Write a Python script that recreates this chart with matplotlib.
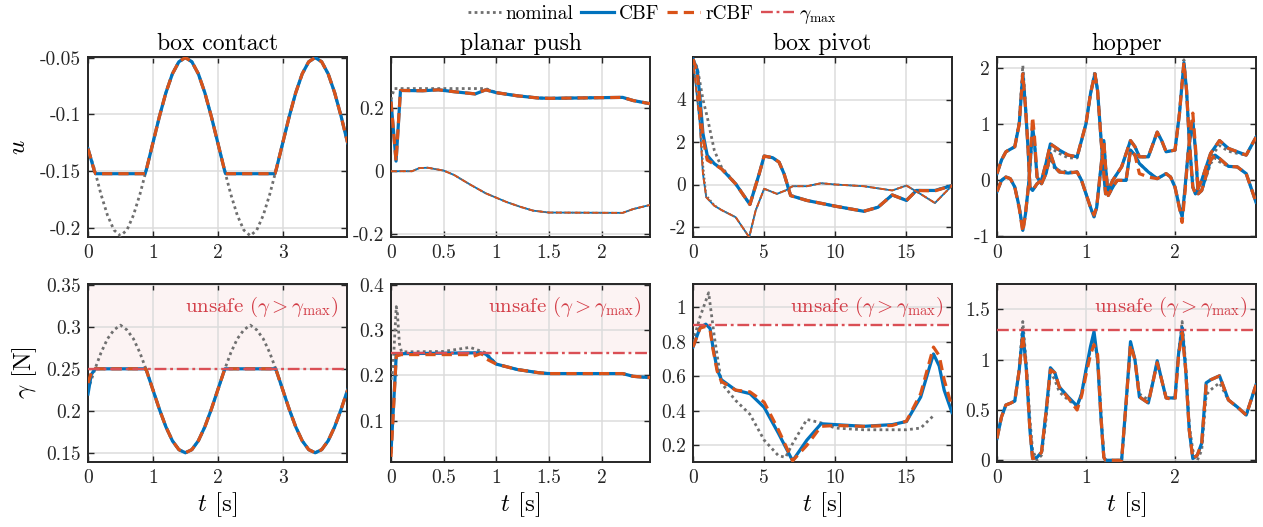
import matplotlib
matplotlib.use("Agg")
import matplotlib.pyplot as plt

plt.rcParams['font.family'] = 'serif'
plt.rcParams['font.serif'] = ['cmr10']
plt.rcParams['mathtext.fontset'] = 'cm'
plt.rcParams['axes.unicode_minus'] = False
plt.rcParams['axes.formatter.use_mathtext'] = True

# ---------------- data ----------------
titles = ["box contact", "planar push", "box pivot", "hopper"]
gamma_max = [0.25, 0.25, 0.9, 1.3]

# box contact
bc_t_nom = [0.0, 0.1, 0.2, 0.3, 0.4, 0.5, 0.6, 0.7, 0.8, 0.9, 1.0, 1.1, 1.2, 1.3, 1.4, 1.5, 1.6, 1.7, 1.8, 1.9, 2.0,
            2.1, 2.2, 2.3, 2.4, 2.5, 2.6, 2.7, 2.8, 2.9, 3.0, 3.1, 3.2, 3.3, 3.4, 3.5, 3.6, 3.7, 3.8, 3.9, 4.0]
bc_u_nom = [-0.13, -0.1482, -0.1701, -0.1885, -0.2015, -0.2065, -0.2015, -0.1885, -0.1701, -0.1482, -0.125,
            -0.1018, -0.0809, -0.0643, -0.0537, -0.05, -0.0537, -0.0643, -0.0809, -0.1018, -0.125,
            -0.1482, -0.1701, -0.1885, -0.2015, -0.2065, -0.2015, -0.1885, -0.1701, -0.1482, -0.125,
            -0.1018, -0.0809, -0.0643, -0.0537, -0.05, -0.0537, -0.0643, -0.0809, -0.1018, -0.125]
bc_t_cbf = [0.0, 0.1, 0.12, 0.88, 0.9, 1.0, 1.1, 1.2, 1.3, 1.4, 1.5, 1.6, 1.7, 1.8, 1.9, 2.0, 2.1, 2.12, 2.88,
            2.9, 3.0, 3.1, 3.2, 3.3, 3.4, 3.5, 3.6, 3.7, 3.8, 3.9, 4.0]
bc_u_cbf = [-0.13, -0.15, -0.152, -0.152, -0.1482, -0.125, -0.1018, -0.0809, -0.0643, -0.0537, -0.05, -0.0537,
            -0.0643, -0.0809, -0.1018, -0.125, -0.1482, -0.152, -0.152, -0.1482, -0.125, -0.1018, -0.0809,
            -0.0643, -0.0537, -0.05, -0.0537, -0.0643, -0.0809, -0.1018, -0.125]
bc_u_rcbf = [-0.13, -0.15, -0.152, -0.152, -0.1482, -0.125, -0.1018, -0.0809, -0.0643, -0.0537, -0.05, -0.0537,
             -0.0643, -0.0809, -0.1018, -0.125, -0.1482, -0.152, -0.152, -0.1482, -0.125, -0.1018, -0.0809,
             -0.0643, -0.0537, -0.05, -0.0537, -0.0643, -0.0809, -0.1018, -0.125]
bc_g_nom = [0.225, 0.2482, 0.2691, 0.2857, 0.2963, 0.302, 0.2963, 0.2857, 0.2691, 0.2482, 0.225,
            0.2018, 0.1809, 0.1643, 0.1537, 0.15, 0.1537, 0.1643, 0.1809, 0.2018, 0.225,
            0.2482, 0.2691, 0.2857, 0.2963, 0.302, 0.2963, 0.2857, 0.2691, 0.2482, 0.225,
            0.2018, 0.1809, 0.1643, 0.1537, 0.15, 0.1537, 0.1643, 0.1809, 0.2018, 0.225]
bc_tg_cbf = [0.0, 0.05, 0.11, 0.89, 0.9, 1.0, 1.1, 1.2, 1.3, 1.4, 1.5, 1.6, 1.7, 1.8, 1.9, 2.0, 2.1, 2.11, 2.89,
             2.9, 3.0, 3.1, 3.2, 3.3, 3.4, 3.5, 3.6, 3.7, 3.8, 3.9, 4.0]
bc_g_cbf = [0.22, 0.243, 0.25, 0.25, 0.2482, 0.225, 0.2018, 0.1809, 0.1643, 0.1537, 0.15, 0.1537, 0.1643,
            0.1809, 0.2018, 0.225, 0.2482, 0.25, 0.25, 0.2482, 0.225, 0.2018, 0.1809, 0.1643, 0.1537, 0.15,
            0.1537, 0.1643, 0.1809, 0.2018, 0.225]
bc_g_rcbf = [0.233, 0.245, 0.25, 0.25, 0.2482, 0.225, 0.2018, 0.1809, 0.1643, 0.1537, 0.15, 0.1537, 0.1643,
             0.1809, 0.2018, 0.225, 0.2482, 0.25, 0.25, 0.2482, 0.225, 0.2018, 0.1809, 0.1643, 0.1537, 0.15,
             0.1537, 0.1643, 0.1809, 0.2018, 0.225]

# planar push
pp_t1 = [0.0, 0.048, 0.09, 0.3, 0.45, 0.6, 0.8, 0.9, 1.0, 1.2, 1.4, 1.5, 2.2, 2.3, 2.46]
pp_u1_cbf = [0.221, 0.032, 0.256, 0.255, 0.258, 0.252, 0.245, 0.258, 0.249, 0.239, 0.232, 0.231, 0.234, 0.224, 0.214]
pp_u1_rcbf = [0.221, 0.032, 0.256, 0.255, 0.258, 0.252, 0.245, 0.258, 0.249, 0.239, 0.232, 0.231, 0.234, 0.224, 0.214]
pp_t1_nom = [0.0, 0.03, 0.9, 1.0, 1.2, 1.4, 1.5, 2.2, 2.3, 2.46]
pp_u1_nom = [0.226, 0.262, 0.262, 0.249, 0.239, 0.232, 0.231, 0.234, 0.224, 0.214]
pp_t2 = [0.0, 0.2, 0.27, 0.35, 0.5, 0.6, 0.75, 0.9, 1.0, 1.1, 1.23, 1.35, 1.5, 2.2, 2.3, 2.46]
pp_u2 = [0.0, 0.0, 0.01, 0.011, 0.002, -0.012, -0.042, -0.07, -0.084, -0.098, -0.113, -0.125, -0.131, -0.132,
         -0.12, -0.107]
pp_tg_cbf = [0.0, 0.05, 0.1, 0.85, 0.9, 1.0, 1.2, 1.4, 1.5, 2.2, 2.3, 2.46]
pp_g_cbf = [0.031, 0.245, 0.248, 0.25, 0.247, 0.225, 0.213, 0.206, 0.204, 0.204, 0.198, 0.195]
pp_tg_rcbf = [0.0, 0.05, 0.1, 0.75, 0.78, 0.85, 0.88, 0.9, 1.0, 1.2, 1.4, 1.5, 2.2, 2.3, 2.46]
pp_g_rcbf = [0.02, 0.243, 0.246, 0.246, 0.242, 0.248, 0.245, 0.237, 0.225, 0.213, 0.206, 0.204, 0.204, 0.198, 0.195]
pp_tg_nom = [0.0, 0.02, 0.05, 0.06, 0.08, 0.1, 0.5, 0.75, 0.9, 1.0, 1.2, 1.4, 1.5, 2.2, 2.3, 2.46]
pp_g_nom = [0.19, 0.22, 0.352, 0.34, 0.27, 0.252, 0.253, 0.262, 0.25, 0.225, 0.213, 0.206, 0.204, 0.204, 0.198, 0.195]

# box pivot
bp_tA = [0.0, 0.3, 0.5, 0.7, 1.0, 1.5, 2.0, 3.0, 4.0, 4.65, 5.0, 5.6, 6.05, 6.4, 6.86, 8.0, 10.0, 12.0, 13.0, 14.0,
         15.0, 15.7, 17.0, 18.2]
bp_uA_cbf = [5.9, 5.4, 4.0, 2.4, 1.37, 0.98, 0.74, 0.03, -0.94, 0.5, 1.34, 1.26, 1.05, 0.5, -0.52, -0.75, -1.02,
             -1.26, -1.07, -0.49, -0.75, -0.28, -0.28, -0.05]
bp_uA_rcbf = [5.9, 5.3, 3.7, 2.2, 1.15, 0.95, 0.74, 0.03, -0.94, 0.5, 1.34, 1.26, 1.05, 0.5, -0.52, -0.75, -1.02,
              -1.26, -1.07, -0.49, -0.75, -0.28, -0.3, -0.05]
bp_uA_nom = [5.9, 5.5, 4.76, 4.0, 3.18, 1.6, 0.82, 0.03, -0.94, 0.5, 1.34, 1.26, 1.05, 0.5, -0.52, -0.75, -1.02,
             -1.26, -1.07, -0.49, -0.75, -0.28, -0.28, -0.05]
bp_tB = [0.0, 0.47, 0.7, 0.93, 1.5, 2.0, 3.0, 3.95, 4.4, 5.0, 5.9, 6.5, 7.0, 8.0, 9.0, 10.0, 12.0, 14.0, 15.0, 16.0,
         17.0, 18.2]
bp_uB = [5.9, 2.9, 0.5, -0.6, -1.0, -1.2, -1.54, -2.48, -1.23, -0.2, -0.44, -0.28, -0.08, -0.08, 0.06, 0.0, -0.08,
         -0.28, -0.05, -0.45, -0.87, -0.05]
bp_uB_nom = [5.9, 3.2, 1.0, -0.5, -0.97, -1.2, -1.54, -2.48, -1.23, -0.2, -0.44, -0.28, -0.08, -0.08, 0.06, 0.0,
             -0.08, -0.28, -0.05, -0.45, -0.87, -0.05]
bp_tg = [0.0, 0.5, 0.9, 1.2, 1.4, 1.7, 2.0, 3.0, 4.0, 5.0, 6.0, 7.0, 8.0, 9.0, 10.0, 12.0, 14.0, 15.0, 16.0, 16.5,
         16.9, 17.3, 17.65, 18.2]
bp_g_cbf = [0.77, 0.884, 0.903, 0.878, 0.77, 0.64, 0.58, 0.52, 0.50, 0.42, 0.27, 0.11, 0.23, 0.325, 0.32, 0.31,
            0.32, 0.338, 0.48, 0.62, 0.73, 0.66, 0.52, 0.39]
bp_g_rcbf = [0.77, 0.88, 0.89, 0.87, 0.76, 0.63, 0.57, 0.52, 0.51, 0.45, 0.29, 0.11, 0.2, 0.31, 0.315, 0.31,
             0.315, 0.34, 0.5, 0.65, 0.77, 0.72, 0.58, 0.42]
bp_tg_nom = [0.0, 0.5, 1.1, 1.5, 2.0, 3.0, 4.0, 5.0, 6.0, 6.5, 7.0, 8.0, 9.0, 10.0, 12.0, 15.0, 16.0, 17.0]
bp_g_nom = [0.8, 0.946, 1.085, 0.83, 0.56, 0.46, 0.38, 0.23, 0.14, 0.13, 0.21, 0.35, 0.33, 0.30, 0.29, 0.29, 0.30, 0.38]

# hopper
hp_tA = [0.0, 0.05, 0.1, 0.15, 0.2, 0.25, 0.29, 0.32, 0.36, 0.4, 0.42, 0.45, 0.5, 0.55, 0.6, 0.65, 0.7, 0.8, 0.9,
         0.95, 1.0, 1.05, 1.09, 1.12, 1.16, 1.2, 1.22, 1.25, 1.3, 1.35, 1.45, 1.5, 1.55, 1.6, 1.7, 1.8, 1.9, 1.95,
         2.0, 2.05, 2.08, 2.11, 2.15, 2.2, 2.23, 2.26, 2.3, 2.4, 2.45, 2.5, 2.6, 2.7, 2.8, 2.91]
hp_uA_cbf = [-0.2, 0.0, 0.06, 0.03, -0.12, -0.48, -0.89, -0.6, 0.0, 0.95, 0.7, 0.06, -0.06, 0.12, 0.48, 0.24,
             0.15, 0.13, 0.15, 0.0, -0.24, -0.48, -0.65, -0.48, 0.12, 0.71, 0.24, -0.27, -0.12, 0.0, 0.0, 0.54,
             0.45, 0.3, 0.15, 0.03, 0.12, 0.06, -0.12, -0.48, -0.65, -0.18, 0.54, 1.07, 0.54, -0.24, -0.18, 0.36,
             0.45, 0.39, 0.25, 0.24, 0.12, -0.39]
hp_uA_rcbf = [-0.2, 0.0, 0.06, 0.03, -0.12, -0.5, -0.92, -0.6, 0.0, 1.13, 0.8, 0.06, -0.06, 0.12, 0.48, 0.24,
              0.15, 0.13, 0.15, 0.0, -0.24, -0.48, -0.62, -0.48, 0.12, 0.71, 0.24, -0.27, -0.12, 0.0, 0.0, 0.54,
              0.45, 0.12, 0.06, 0.03, 0.12, 0.06, -0.12, -0.5, -0.75, -0.25, 0.54, 1.2, 0.6, -0.24, -0.18, 0.36,
              0.45, 0.39, 0.25, 0.24, 0.12, -0.39]
hp_uA_nom = [-0.2, 0.0, 0.06, 0.03, -0.12, -0.48, -0.89, -0.6, 0.0, 0.85, 0.7, 0.06, -0.06, 0.12, 0.4, 0.2,
             0.18, 0.15, 0.15, 0.0, -0.24, -0.48, -0.65, -0.48, 0.12, 0.71, 0.24, -0.27, -0.12, 0.0, 0.0, 0.54,
             0.45, 0.3, 0.15, 0.03, 0.12, 0.06, -0.12, -0.48, -0.65, -0.18, 0.54, 1.0, 0.54, -0.24, -0.18, 0.3,
             0.4, 0.33, 0.25, 0.24, 0.12, -0.39]
hp_tB = [0.0, 0.05, 0.1, 0.2, 0.25, 0.29, 0.32, 0.35, 0.37, 0.4, 0.45, 0.5, 0.55, 0.6, 0.7, 0.8, 0.9, 1.0, 1.05,
         1.1, 1.13, 1.17, 1.2, 1.22, 1.25, 1.3, 1.4, 1.5, 1.55, 1.6, 1.7, 1.8, 1.85, 1.9, 2.0, 2.05, 2.1, 2.13,
         2.16, 2.2, 2.23, 2.3, 2.4, 2.5, 2.6, 2.7, 2.8, 2.91]
hp_uB = [0.12, 0.36, 0.51, 0.6, 1.01, 1.9, 1.31, 0.54, -0.12, -0.18, -0.06, 0.0, 0.3, 0.65, 0.54, 0.45, 0.42,
         1.01, 1.54, 1.9, 1.6, 0.71, 0.12, -0.24, -0.18, 0.0, 0.24, 0.71, 0.6, 0.42, 0.42, 0.86, 0.71, 0.51, 0.54,
         1.19, 2.1, 1.6, 0.71, -0.12, -0.24, 0.0, 0.48, 0.71, 0.57, 0.51, 0.45, 0.77]
hp_uB_nom = [0.12, 0.36, 0.51, 0.6, 1.05, 2.05, 1.35, 0.54, -0.12, -0.18, -0.06, 0.0, 0.28, 0.58, 0.48, 0.4, 0.4,
             1.01, 1.54, 1.95, 1.6, 0.71, 0.12, -0.24, -0.18, 0.0, 0.24, 0.71, 0.6, 0.42, 0.42, 0.86, 0.71, 0.51,
             0.54, 1.2, 2.15, 1.6, 0.71, -0.12, -0.24, 0.0, 0.42, 0.62, 0.52, 0.48, 0.45, 0.77]
hp_tg = [0.0, 0.05, 0.1, 0.15, 0.2, 0.25, 0.29, 0.33, 0.37, 0.4, 0.45, 0.5, 0.55, 0.6, 0.65, 0.7, 0.8, 0.9, 0.95,
         1.0, 1.05, 1.09, 1.13, 1.17, 1.2, 1.22, 1.4, 1.45, 1.5, 1.55, 1.6, 1.7, 1.75, 1.8, 1.85, 1.9, 2.0, 2.04,
         2.08, 2.12, 2.16, 2.2, 2.25, 2.3, 2.35, 2.4, 2.5, 2.6, 2.7, 2.8, 2.91]
hp_g_cbf = [0.217, 0.43, 0.55, 0.567, 0.59, 0.9, 1.28, 0.9, 0.3, 0.017, 0.03, 0.08, 0.47, 0.92, 0.87, 0.73, 0.63,
            0.54, 0.66, 0.9, 1.13, 1.28, 1.0, 0.4, 0.03, 0.0, 0.0, 0.57, 1.18, 1.0, 0.63, 0.57, 0.77, 0.99, 0.8,
            0.62, 0.62, 1.06, 1.32, 0.9, 0.3, 0.017, 0.05, 0.17, 0.77, 0.8, 0.84, 0.6, 0.53, 0.45, 0.75]
hp_g_rcbf = [0.217, 0.43, 0.55, 0.567, 0.59, 0.9, 1.25, 0.9, 0.3, 0.017, 0.03, 0.08, 0.47, 0.9, 0.87, 0.73, 0.62,
             0.5, 0.64, 0.85, 1.05, 1.15, 1.05, 0.4, 0.03, 0.0, 0.0, 0.57, 1.15, 1.0, 0.63, 0.57, 0.77, 0.97, 0.8,
             0.62, 0.6, 1.04, 1.27, 0.9, 0.3, 0.017, 0.05, 0.17, 0.75, 0.8, 0.84, 0.6, 0.53, 0.45, 0.75]
hp_g_nom = [0.217, 0.43, 0.55, 0.567, 0.59, 0.9, 1.38, 0.95, 0.4, 0.1, 0.0, 0.05, 0.4, 0.88, 0.8, 0.68, 0.6,
            0.54, 0.66, 0.9, 1.1, 1.22, 1.0, 0.45, 0.05, 0.0, 0.0, 0.55, 1.15, 1.0, 0.66, 0.6, 0.77, 0.97, 0.8,
            0.62, 0.62, 1.06, 1.38, 0.95, 0.35, 0.1, 0.0, 0.1, 0.65, 0.7, 0.77, 0.6, 0.53, 0.45, 0.75]

# axis limits and ticks
xlims = [(0, 3.99), (0, 2.46), (0, 18.2), (0, 2.91)]
ylims_u = [(-0.2076, -0.0495), (-0.2085, 0.362), (-2.47, 6.0), (-1.01, 2.2)]
ylims_g = [(0.139, 0.351), (0.0086, 0.402), (0.103, 1.136), (-0.017, 1.753)]
xticks = [[0, 1, 2, 3], [0, 0.5, 1, 1.5, 2], [0, 5, 10, 15], [0, 1, 2]]
xticklabels = [["0", "1", "2", "3"], ["0", "0.5", "1", "1.5", "2"], ["0", "5", "10", "15"], ["0", "1", "2"]]
yticks_u = [[-0.2, -0.15, -0.1, -0.05], [-0.2, 0, 0.2], [-2, 0, 2, 4], [-1, 0, 1, 2]]
yticklabels_u = [["-0.2", "-0.15", "-0.1", "-0.05"], ["-0.2", "0", "0.2"], ["-2", "0", "2", "4"],
                 ["-1", "0", "1", "2"]]
yticks_g = [[0.15, 0.2, 0.25, 0.3, 0.35], [0.1, 0.2, 0.3, 0.4], [0.2, 0.4, 0.6, 0.8, 1], [0, 0.5, 1, 1.5]]
yticklabels_g = [["0.15", "0.2", "0.25", "0.3", "0.35"], ["0.1", "0.2", "0.3", "0.4"],
                 ["0.2", "0.4", "0.6", "0.8", "1"], ["0", "0.5", "1", "1.5"]]

# ---------------- style ----------------
C_NOM = '#6f6f6f'
C_CBF = '#0072BD'
C_RCBF = '#D95319'
C_MAX = '#DA4F55'
C_TXT = '#D33D47'
LW = 2.3
LW_THIN = 1.3
NOM_LS = (0, (1.0, 1.2))
RCBF_DASH = (0, (3.2, 1.9))
MAX_DASH = (0, (5, 1.6, 1.2, 1.6))

fig = plt.figure(figsize=(12.63, 5.27), dpi=100)
lefts = [88, 391, 693, 997]
W = 259
top_row = (57, 237)
bot_row = (284, 462)
FW, FH = 1263, 527


def make_ax(x0, row):
    y0, y1 = row
    return fig.add_axes([x0 / FW, 1 - y1 / FH, W / FW, (y1 - y0) / FH])


def style_ax(ax, i, yt, ytl, yl):
    ax.set_xlim(*xlims[i])
    ax.set_ylim(*yl)
    ax.set_xticks(xticks[i], xticklabels[i])
    ax.set_yticks(yt, ytl)
    ax.grid(True, color='#dcdcdc', lw=1.1)
    ax.set_axisbelow(True)
    ax.tick_params(direction='in', length=4, width=1.0, top=True, right=True, labelsize=14,
                   colors='#262626', pad=5)
    for s in ax.spines.values():
        s.set_color('#262626')
        s.set_linewidth(1.4)


def plot3(ax, t_nom, nom, t_cbf, cbf, t_rcbf, rcbf, thin=False):
    lw = LW_THIN if thin else LW
    if thin:
        ax.plot(t_cbf, cbf, color=C_CBF, lw=lw, zorder=3)
        ax.plot(t_nom, nom, color=C_NOM, lw=lw, ls=NOM_LS, zorder=4)
        ax.plot(t_rcbf, rcbf, color=C_RCBF, lw=lw, ls=RCBF_DASH, zorder=5)
        return
    h1, = ax.plot(t_nom, nom, color=C_NOM, lw=2.0, ls=NOM_LS, zorder=3)
    h2, = ax.plot(t_cbf, cbf, color=C_CBF, lw=lw, zorder=4)
    h3, = ax.plot(t_rcbf, rcbf, color=C_RCBF, lw=lw, ls=RCBF_DASH, zorder=5)
    return h1, h2, h3


axes_u = [make_ax(x, top_row) for x in lefts]
axes_g = [make_ax(x, bot_row) for x in lefts]

# top row: u
handles = plot3(axes_u[0], bc_t_nom, bc_u_nom, bc_t_cbf, bc_u_cbf, bc_t_cbf, bc_u_rcbf)
plot3(axes_u[1], pp_t2, pp_u2, pp_t2, pp_u2, pp_t2, pp_u2, thin=True)
plot3(axes_u[1], pp_t1_nom, pp_u1_nom, pp_t1, pp_u1_cbf, pp_t1, pp_u1_rcbf)
plot3(axes_u[2], bp_tB, bp_uB_nom, bp_tB, bp_uB, bp_tB, bp_uB, thin=True)
plot3(axes_u[2], bp_tA, bp_uA_nom, bp_tA, bp_uA_cbf, bp_tA, bp_uA_rcbf)
plot3(axes_u[3], hp_tB, hp_uB_nom, hp_tB, hp_uB, hp_tB, hp_uB)
plot3(axes_u[3], hp_tA, hp_uA_nom, hp_tA, hp_uA_cbf, hp_tA, hp_uA_rcbf)

# bottom row: gamma
plot3(axes_g[0], bc_t_nom, bc_g_nom, bc_tg_cbf, bc_g_cbf, bc_tg_cbf, bc_g_rcbf)
plot3(axes_g[1], pp_tg_nom, pp_g_nom, pp_tg_cbf, pp_g_cbf, pp_tg_rcbf, pp_g_rcbf)
plot3(axes_g[2], bp_tg_nom, bp_g_nom, bp_tg, bp_g_cbf, bp_tg, bp_g_rcbf)
plot3(axes_g[3], hp_tg, hp_g_nom, hp_tg, hp_g_cbf, hp_tg, hp_g_rcbf)

hmax = None
for i in range(4):
    axu, axg = axes_u[i], axes_g[i]
    style_ax(axu, i, yticks_u[i], yticklabels_u[i], ylims_u[i])
    style_ax(axg, i, yticks_g[i], yticklabels_g[i], ylims_g[i])
    axu.set_title(titles[i], fontsize=17, pad=5)
    axg.axhspan(gamma_max[i], ylims_g[i][1], color='#fbeeee', alpha=0.65, zorder=0.5, lw=0)
    hmax = axg.axhline(gamma_max[i], color=C_MAX, lw=1.7, ls=MAX_DASH, zorder=6)
    axg.text(0.969, 0.873, r'unsafe ($\gamma>\gamma_{\max}$)', transform=axg.transAxes, ha='right',
             va='center', color=C_TXT, fontsize=15, zorder=7)
    axg.set_xlabel(r'$t$ [s]', fontsize=18)
    axg.xaxis.set_label_coords(0.5, -0.16)

axes_u[0].set_ylabel(r'$u$', fontsize=18)
axes_u[0].yaxis.set_label_coords(-0.225, 0.5)
axes_g[0].set_ylabel(r'$\gamma$ [N]', fontsize=18)
axes_g[0].yaxis.set_label_coords(-0.19, 0.5)

fig.legend(list(handles) + [hmax], ['nominal', 'CBF', 'rCBF', r'$\gamma_{\max}$'], loc='upper center',
           bbox_to_anchor=(0.516, 1.006), ncol=4, frameon=False, fontsize=14, handlelength=1.7,
           handletextpad=0.25, columnspacing=0.4, borderaxespad=0.0)

fig.savefig('out.png', dpi=100)
